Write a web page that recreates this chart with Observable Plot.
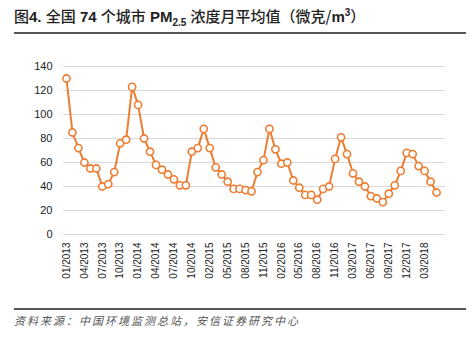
<!DOCTYPE html>
<html><head><meta charset="utf-8">
<script src="https://cdn.jsdelivr.net/npm/d3@7"></script>
<script src="https://cdn.jsdelivr.net/npm/@observablehq/plot@0.6"></script>
<style>
body{margin:0;width:472px;height:339px;position:relative;background:#fff;overflow:hidden;font-family:"Liberation Sans",Arial,"Noto Sans CJK SC",sans-serif;}
#title{position:absolute;left:14px;top:5px;font-size:15px;color:#222;white-space:nowrap;}
#title b{font-family:"Liberation Sans",Arial,sans-serif;font-weight:bold;}
#title span{font-family:"Noto Sans CJK SC",sans-serif;font-weight:500;}
#title sub,#title sup{font-size:10px;}
.rule{position:absolute;left:14px;width:452px;height:2px;background:#555;}
#chart{position:absolute;left:0;top:0;}
#src{position:absolute;left:14px;top:312px;font-size:11px;letter-spacing:2px;font-style:italic;color:#555;font-family:"Noto Sans CJK SC",sans-serif;white-space:nowrap;}
</style></head><body>
<div id="title"><span>图</span><b>4.</b> <span>全国</span> <b>74</b> <span>个城市</span> <b>PM<sub>2.5</sub></b> <span>浓度月平均值（微克/</span><b>m<sup>3</sup></b><span>）</span></div>
<div class="rule" style="top:32px"></div>
<div id="chart"></div>
<div class="rule" style="top:308px"></div>
<div id="src">资料来源：中国环境监测总站，安信证券研究中心</div>
<script>
const months = [
 "01/2013","02/2013","03/2013","04/2013","05/2013","06/2013","07/2013","08/2013","09/2013","10/2013","11/2013","12/2013",
 "01/2014","02/2014","03/2014","04/2014","05/2014","06/2014","07/2014","08/2014","09/2014","10/2014","11/2014","12/2014",
 "02/2015","03/2015","04/2015","05/2015","06/2015","07/2015","08/2015","09/2015","10/2015","11/2015","12/2015",
 "01/2016","02/2016","03/2016","04/2016","05/2016","06/2016","07/2016","08/2016","09/2016","10/2016","11/2016","12/2016",
 "01/2017","03/2017","04/2017","05/2017","06/2017","07/2017","08/2017","09/2017","10/2017","11/2017","12/2017",
 "01/2018","02/2018","03/2018","04/2018","05/2018"
];
const values = [
 130,85,72,60,55,55,40,42,52,76,79,123,
 108,80,69,58,54,50,46,41,41,69,72,88,
 72,56,50,44,38,38,37,36,52,62,88,
 71,59,60,45,39,33,33,29,38,40,63,81,
 67,51,44,40,32,30,27,34,41,53,68,
 67,57,53,44,35
];
const yTicks = [0,20,40,60,80,100,120,140];
const xTickLabels = ["01/2013","04/2013","07/2013","10/2013","01/2014","04/2014","07/2014","10/2014",
 "02/2015","05/2015","08/2015","11/2015","02/2016","05/2016","08/2016","11/2016",
 "03/2017","06/2017","09/2017","12/2017","03/2018"];

const data = months.map((m,i)=>({i, month:m, value:values[i]}));
const xTicks = xTickLabels.map(l=>months.indexOf(l));
const orange = "#ED7D31";

const chart = Plot.plot({
  width:472, height:300,
  marginLeft:63, marginRight:27, marginTop:66, marginBottom:66,
  style:{fontFamily:"'Liberation Sans', Arial, sans-serif", color:"#222", background:"transparent"},
  x:{type:"linear", domain:[-0.5, months.length + 0.5]},
  y:{domain:[0,140]},
  marks:[
    Plot.ruleY(yTicks,{stroke:"#d9d9d9", strokeWidth:1}),
    Plot.lineY(data,{x:"i", y:"value", stroke:orange, strokeWidth:2}),
    Plot.dot(data,{x:"i", y:"value", r:3.6, fill:"white", stroke:orange, strokeWidth:1.6}),
    Plot.axisY({ticks:yTicks, tickSize:0, tickPadding:11, fontSize:11, label:null}),
    Plot.axisX({ticks:xTicks, tickFormat:i=>months[i], tickRotate:-90, tickSize:0, tickPadding:8, fontSize:10, label:null})
  ]
});
document.getElementById("chart").appendChild(chart);
</script>
</body></html>
